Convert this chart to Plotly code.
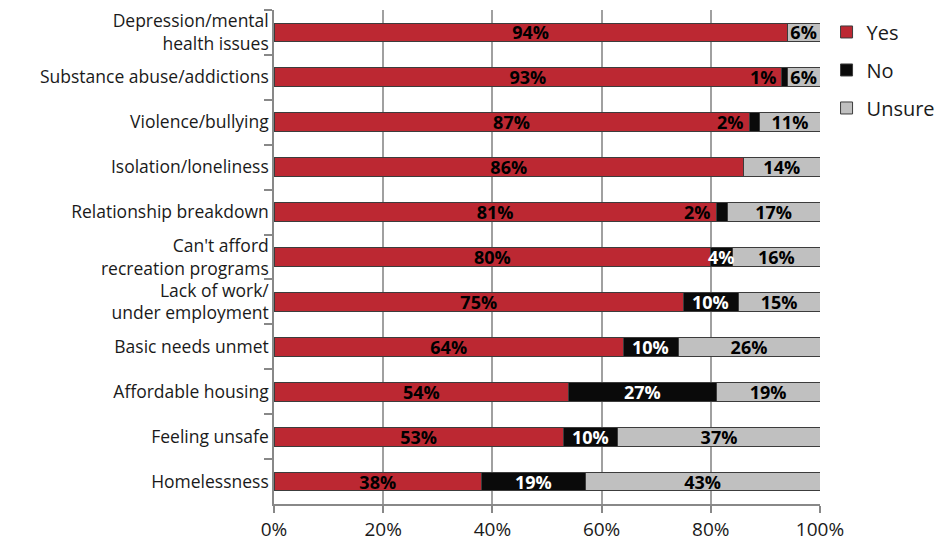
import plotly.graph_objects as go

categories = ["Depression/mental<br>health issues", "Substance abuse/addictions", "Violence/bullying",
              "Isolation/loneliness", "Relationship breakdown", "Can't afford<br>recreation programs",
              "Lack of work/<br>under employment", "Basic needs unmet", "Affordable housing",
              "Feeling unsafe", "Homelessness"]
yes_vals = [94, 93, 87, 86, 81, 80, 75, 64, 54, 53, 38]
no_vals = [0, 1, 2, 0, 2, 4, 10, 10, 27, 10, 19]
unsure_vals = [6, 6, 11, 14, 17, 16, 15, 26, 19, 37, 43]
x_ticks = [0, 20, 40, 60, 80, 100]

FONT = "Open Sans"
RED = "#bc2832"
BLACK = "#0a0a0a"
GREY = "#c0c0c0"
EDGE = "#3c3c3c"

fig = go.Figure()

fig.add_trace(go.Bar(y=categories, x=yes_vals, orientation='h', name="Yes",
                     marker=dict(color=RED, line=dict(color=EDGE, width=1)),
                     text=[f"{v}%" for v in yes_vals], textposition='inside',
                     insidetextanchor='middle', constraintext='none',
                     textfont=dict(family=FONT, size=18, color="black", weight="bold"),
                     legendgroup="a", hoverinfo='skip'))
fig.add_trace(go.Bar(y=categories, x=no_vals, orientation='h', name="No",
                     marker=dict(color=BLACK, line=dict(color=EDGE, width=1)),
                     legendgroup="b", hoverinfo='skip'))
fig.add_trace(go.Bar(y=categories, x=unsure_vals, orientation='h', name="Unsure",
                     marker=dict(color=GREY, line=dict(color=EDGE, width=1)),
                     text=[f"{v}%" for v in unsure_vals], textposition='inside',
                     insidetextanchor='middle', constraintext='none',
                     textfont=dict(family=FONT, size=18, color="black", weight="bold"),
                     legendgroup="c", hoverinfo='skip'))

# "No" labels: tiny ones sit in the red bar, the rest centred in white
for cat, y, n in zip(categories, yes_vals, no_vals):
    if n == 0:
        continue
    if n <= 2:
        fig.add_annotation(x=y, y=cat, text=f"{n}%", showarrow=False, xanchor='right', xshift=-3,
                           font=dict(family=FONT, size=18, color="black", weight="bold"))
    else:
        fig.add_annotation(x=y + n / 2, y=cat, text=f"{n}%", showarrow=False, xanchor='center',
                           font=dict(family=FONT, size=18, color="white", weight="bold"))

# page body has an 8px margin, so the figure is 8px smaller than the window
fig.update_layout(
    barmode='stack',
    bargap=0.58,
    width=944, height=535,
    margin=dict(l=266, r=132, t=1, b=33),
    plot_bgcolor='white', paper_bgcolor='white',
    font=dict(family=FONT, size=19, color="#1a1a1a"),
    showlegend=True,
    legend=dict(x=1.012, y=0.995, xanchor='left', yanchor='top', tracegroupgap=9,
                font=dict(family=FONT, size=20, color="#1a1a1a")),
    xaxis=dict(range=[0, 100], tickvals=x_ticks, ticktext=[f"{t}%" for t in x_ticks],
               showgrid=True, gridcolor="#a0a0a0", gridwidth=1.5, zeroline=False,
               showline=True, linecolor="#888888", linewidth=1.5, tickfont=dict(size=19),
               ticks='outside', ticklen=7, tickcolor="#888888", tickwidth=1.5),
    yaxis=dict(autorange='reversed', showline=True, linecolor="#888888", linewidth=1.5,
               ticks='outside', tickson='boundaries', ticklen=8, tickcolor="#888888", tickwidth=1.5,
               showgrid=False, tickfont=dict(size=17.5)),
)

fig.write_html("out.html")
